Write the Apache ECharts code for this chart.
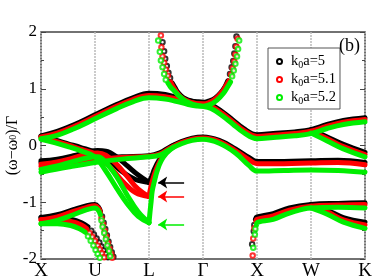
<!DOCTYPE html>
<html><head><meta charset="utf-8">
<script src="https://cdn.jsdelivr.net/npm/echarts@6/dist/echarts.min.js"></script>
<style>html,body{margin:0;padding:0;background:#fff}#c{width:374px;height:279px}</style>
</head><body><div id="c"></div>
<script>
const xLabels = ['X','U','L','Γ','X','W','K'];
const seriesNames = ['k0a=5','k0a=5.1','k0a=5.2'];
const seriesColors = ['#000000','#ff0000','#00ee00'];

// Upper band X-U-L-Γ-X-W-K
const upper5  = [[0,0.17],[0.3,0.25],[0.6,0.36],[1,0.54],[1.4,0.72],[1.7,0.84],[2,0.92],[2.3,0.9],[2.5,0.85],[2.7,0.8],[2.85,0.77],[3,0.76],[3.15,0.72],[3.35,0.6],[3.55,0.45],[3.75,0.3],[4,0.19],[4.3,0.21],[4.7,0.24],[5,0.28],[5.3,0.37],[5.6,0.44],[6,0.49]];
const upper51 = [[0,0.15],[0.3,0.22],[0.6,0.33],[1,0.51],[1.4,0.69],[1.7,0.81],[2,0.88],[2.3,0.86],[2.5,0.82],[2.7,0.77],[2.85,0.74],[3,0.73],[3.15,0.69],[3.35,0.57],[3.55,0.42],[3.75,0.27],[4,0.16],[4.3,0.18],[4.7,0.21],[5,0.25],[5.3,0.34],[5.6,0.41],[6,0.46]];
const upper52 = [[0,0.12],[0.3,0.18],[0.6,0.29],[1,0.47],[1.4,0.65],[1.7,0.77],[2,0.84],[2.3,0.82],[2.5,0.78],[2.7,0.73],[2.85,0.7],[3,0.69],[3.15,0.65],[3.35,0.53],[3.55,0.38],[3.75,0.23],[4,0.12],[4.3,0.14],[4.7,0.17],[5,0.21],[5.3,0.3],[5.6,0.37],[6,0.42]];

// Parabola around Γ (dense part)
const para5  = [[2.43,1.1],[2.48,1.02],[2.54,0.93],[2.64,0.84],[2.79,0.78],[3,0.76],[3.1,0.78],[3.22,0.83],[3.33,0.93],[3.41,1.04],[3.46,1.14]];
const para51 = [[2.4,1.12],[2.45,1.03],[2.52,0.93],[2.62,0.83],[2.78,0.76],[3,0.73],[3.12,0.76],[3.24,0.83],[3.35,0.94],[3.43,1.06],[3.48,1.14]];
const para52 = [[2.35,1.1],[2.4,1.03],[2.47,0.96],[2.55,0.88],[2.65,0.8],[2.8,0.73],[3,0.69],[3.13,0.72],[3.26,0.8],[3.38,0.92],[3.46,1.04],[3.51,1.12]];
// Parabola sparse points
const paraPts5  = [[2.25,1.82],[2.28,1.66],[2.3,1.53],[2.33,1.4],[2.36,1.28],[2.39,1.19],[3.62,1.92],[3.6,1.75],[3.58,1.62],[3.56,1.49],[3.53,1.38],[3.5,1.26]];
const paraPts51 = [[2.22,1.94],[2.23,1.73],[2.25,1.57],[2.28,1.46],[2.31,1.34],[2.35,1.23],[3.64,1.88],[3.62,1.74],[3.6,1.6],[3.58,1.48],[3.55,1.36],[3.52,1.25]];
const paraPts52 = [[2.17,1.85],[2.2,1.65],[2.22,1.5],[2.25,1.38],[2.28,1.26],[2.31,1.16],[3.67,1.85],[3.65,1.7],[3.63,1.57],[3.6,1.44],[3.57,1.32],[3.54,1.22]];

// Band A: from X (top) down through U to L (lower path)
const bandA5  = [[0,0.16],[0.25,0.1],[0.5,0.03],[0.75,-0.04],[1,-0.12],[1.25,-0.25],[1.5,-0.46],[1.75,-0.6],[2,-0.65]];
const bandA51 = [[0,0.14],[0.25,0.08],[0.5,0.01],[0.75,-0.07],[1,-0.15],[1.25,-0.35],[1.5,-0.62],[1.75,-0.83],[2,-0.9]];
const bandA52 = [[0,0.11],[0.25,0.05],[0.5,-0.02],[0.75,-0.1],[1,-0.2],[1.2,-0.45],[1.4,-0.75],[1.6,-1.03],[1.8,-1.25],[2,-1.36]];
// Band H: from X, hump at U, down to L (upper path)
const bandH5  = [[0,-0.27],[0.3,-0.24],[0.6,-0.18],[0.85,-0.12],[1.05,-0.09],[1.2,-0.1],[1.4,-0.2],[1.6,-0.36],[1.8,-0.52],[2,-0.65]];
const bandH51 = [[0,-0.33],[0.3,-0.29],[0.6,-0.22],[0.85,-0.15],[1.05,-0.13],[1.2,-0.17],[1.4,-0.33],[1.6,-0.55],[1.8,-0.77],[2,-0.9]];
const bandH52 = [[0,-0.42],[0.3,-0.36],[0.6,-0.28],[0.85,-0.22],[1.05,-0.2],[1.2,-0.3],[1.4,-0.55],[1.6,-0.88],[1.8,-1.17],[2,-1.36]];
// Band G: X -> L (near -0.2) -> Γ -> X -> W -> K
const bandG5  = [[0,-0.3],[0.5,-0.26],[1,-0.23],[1.5,-0.2],[2,-0.18],[2.2,-0.13],[2.4,-0.02],[2.6,0.07],[2.8,0.13],[3,0.15],[3.3,0.09],[3.6,-0.06],[3.85,-0.21],[4,-0.28],[4.5,-0.28],[5,-0.27],[5.5,-0.26],[6,-0.3]];
const bandG51 = [[0,-0.37],[0.5,-0.3],[1,-0.25],[1.5,-0.21],[2,-0.19],[2.2,-0.15],[2.4,-0.04],[2.6,0.05],[2.8,0.11],[3,0.13],[3.3,0.07],[3.6,-0.09],[3.85,-0.25],[4,-0.32],[4.5,-0.32],[5,-0.31],[5.5,-0.3],[6,-0.34]];
const bandG52 = [[0,-0.47],[0.5,-0.38],[1,-0.3],[1.5,-0.24],[2,-0.2],[2.2,-0.17],[2.4,-0.06],[2.6,0.03],[2.8,0.09],[3,0.11],[3.3,0.04],[3.6,-0.13],[3.85,-0.35],[4,-0.45],[4.5,-0.44],[5,-0.43],[5.5,-0.44],[6,-0.47]];
// Band S: steep rise out of L
const bandS5  = [[2,-0.65],[2.05,-0.55],[2.1,-0.42],[2.18,-0.27],[2.3,-0.12],[2.45,0.0]];
const bandS51 = [[2,-0.9],[2.03,-0.75],[2.07,-0.6],[2.12,-0.45],[2.2,-0.28],[2.3,-0.14],[2.45,-0.02]];
const bandS52 = [[2,-1.36],[2.02,-1.16],[2.04,-0.98],[2.06,-0.8],[2.1,-0.63],[2.15,-0.45],[2.22,-0.28],[2.32,-0.14],[2.45,-0.03]];
// Descending branch W -> K (upper)
const wk5  = [[5,0.28],[5.3,0.15],[5.6,0.02],[6,-0.12]];
const wk51 = [[5,0.25],[5.3,0.12],[5.6,-0.02],[6,-0.16]];
const wk52 = [[5,0.22],[5.3,0.08],[5.6,-0.06],[6,-0.2]];

// Lower bands X -> U (dense part)
const lowA5  = [[0,-1.27],[0.3,-1.22],[0.6,-1.13],[0.85,-1.06],[1,-1.04],[1.06,-1.08],[1.1,-1.16]];
const lowA51 = [[0,-1.31],[0.3,-1.26],[0.6,-1.16],[0.85,-1.09],[1,-1.06],[1.06,-1.1],[1.1,-1.18]];
const lowA52 = [[0,-1.38],[0.3,-1.32],[0.6,-1.22],[0.85,-1.13],[1,-1.1],[1.06,-1.14],[1.1,-1.22]];
const lowB5  = [[0,-1.27],[0.3,-1.27],[0.55,-1.3],[0.75,-1.36],[0.87,-1.43]];
const lowB51 = [[0,-1.31],[0.3,-1.31],[0.55,-1.34],[0.75,-1.4],[0.85,-1.47]];
const lowB52 = [[0,-1.38],[0.3,-1.38],[0.55,-1.41],[0.72,-1.47],[0.82,-1.53]];
// Lower bands X -> U (plunging, sparse circles)
const plunge5  = [[1.13,-1.25],[1.16,-1.36],[1.19,-1.47],[1.22,-1.58],[1.25,-1.69],[1.28,-1.79],[1.31,-1.88],[1.34,-1.96],
                  [0.93,-1.5],[0.98,-1.57],[1.03,-1.64],[1.08,-1.71],[1.12,-1.78],[1.16,-1.85],[1.2,-1.91],[1.24,-1.97]];
const plunge51 = [[1.12,-1.28],[1.15,-1.39],[1.18,-1.5],[1.21,-1.61],[1.24,-1.72],[1.27,-1.82],[1.3,-1.91],[1.32,-1.98],
                  [0.9,-1.54],[0.95,-1.61],[1.0,-1.68],[1.05,-1.76],[1.09,-1.83],[1.13,-1.9],[1.17,-1.97]];
const plunge52 = [[1.12,-1.32],[1.14,-1.43],[1.17,-1.54],[1.2,-1.65],[1.23,-1.76],[1.26,-1.86],[1.28,-1.95],
                  [0.87,-1.6],[0.92,-1.68],[0.97,-1.76],[1.01,-1.84],[1.05,-1.91],[1.09,-1.98]];
// Lower bands X -> W -> K
const lowC5  = [[3.97,-1.3],[4,-1.26],[4.3,-1.2],[4.6,-1.1],[5,-1.04],[5.5,-1.02],[6,-1.01]];
const lowC51 = [[3.98,-1.34],[4,-1.3],[4.3,-1.24],[4.6,-1.14],[5,-1.07],[5.5,-1.05],[6,-1.04]];
const lowC52 = [[3.99,-1.4],[4,-1.36],[4.3,-1.3],[4.6,-1.19],[5,-1.1],[5.5,-1.09],[6,-1.1]];
const lowD5  = [[5,-1.04],[5.3,-1.14],[5.6,-1.27],[6,-1.35]];
const lowD51 = [[5,-1.07],[5.3,-1.17],[5.6,-1.31],[6,-1.4]];
const lowD52 = [[5,-1.1],[5.3,-1.21],[5.6,-1.35],[6,-1.46]];
const tailPts5  = [[3.95,-1.4],[3.94,-1.51],[3.91,-1.74]];
const tailPts51 = [[3.95,-1.46],[3.93,-1.64],[3.92,-1.94]];
const tailPts52 = [[3.97,-1.47],[3.96,-1.57],[3.93,-1.8]];

// Arrows at L
const arrowY = [-0.65, -0.9, -1.39];
const arrowTailX = 2.65;
const arrowHeadX = 2.17;

const serif = "'Liberation Serif','Times New Roman',serif";
const bandSets = [
  [upper5, para5, bandA5, bandH5, bandG5, bandS5, wk5, lowA5, lowB5, lowC5, lowD5],
  [upper51, para51, bandA51, bandH51, bandG51, bandS51, wk51, lowA51, lowB51, lowC51, lowD51],
  [upper52, para52, bandA52, bandH52, bandG52, bandS52, wk52, lowA52, lowB52, lowC52, lowD52]
];
const ptSets = [[paraPts5, tailPts5, plunge5],[paraPts51, tailPts51, plunge51],[paraPts52, tailPts52, plunge52]];

const series = [];
for (let i = 0; i < 3; i++) {
  const c = seriesColors[i];
  bandSets[i].forEach(d => series.push({
    type:'line', name: seriesNames[i], data:d, smooth:0.4, showSymbol:false, symbol:'none',
    lineStyle:{color:c, width:5, cap:'round'}, itemStyle:{color:c}, z:2+i, animation:false, clip:true
  }));
  ptSets[i].forEach(d => series.push({
    type:'scatter', name: seriesNames[i], data:d, symbol:'emptyCircle', symbolSize:4.5,
    itemStyle:{color:c, borderWidth:1}, z:2+i, animation:false
  }));
  series.push({
    type:'line', name: seriesNames[i], data:[], animation:false, z:5,
    markLine:{silent:true, symbol:['none','arrow'], symbolSize:9, label:{show:false},
      lineStyle:{color:c, width:1.5, type:'solid'}, animation:false,
      data:[[{coord:[arrowTailX, arrowY[i]]},{coord:[arrowHeadX, arrowY[i]]}]]}
  });
}

const chart = echarts.init(document.getElementById('c'));
chart.setOption({
  animation:false,
  backgroundColor:'#fff',
  title:{text:'(b)', right:9, top:32, textStyle:{fontFamily:serif, fontSize:18, fontWeight:'normal', color:'#000'}},
  legend:{
    orient:'vertical', left:268, top:48, padding:[5,4,3,8], itemGap:1,
    backgroundColor:'#fff', borderColor:'#555', borderWidth:1,
    itemWidth:5, itemHeight:5,
    data: seriesNames.map((n,i)=>({name:n, icon:'emptyCircle', itemStyle:{color:seriesColors[i], borderWidth:1}})),
    formatter: n => '{p|}' + n.replace('k0a', 'k{s|0}a'),
    textStyle:{fontFamily:serif, fontSize:14.5, lineHeight:16, color:'#000', rich:{p:{width:4}, s:{fontFamily:serif, fontSize:10, lineHeight:16, padding:[7,0,0,0]}}}
  },
  grid:{left:41, right:9, top:32, bottom:20, show:true, borderColor:'#444', borderWidth:1.5, outerBoundsMode:'none', containLabel:false},
  xAxis:{type:'value', min:0, max:6, interval:1,
    axisLine:{show:false}, axisTick:{show:false},
    axisLabel:{showMinLabel:true, showMaxLabel:true, margin:3, fontFamily:serif, fontSize:19, color:'#000', formatter:v=>xLabels[Math.round(v)]},
    splitLine:{show:true, lineStyle:{color:'#bbb', type:[2,1], width:1.5}}},
  yAxis:[{type:'value', min:-2, max:2, interval:1,
    name:'(ω−ω{s|0})/Γ', nameLocation:'middle', nameGap:20, nameRotate:90, nameMoveOverlap:false,
    nameTextStyle:{fontFamily:serif, fontSize:16, color:'#000', rich:{s:{fontFamily:serif, fontSize:10}}},
    axisLine:{show:false}, axisTick:{show:true, inside:true, length:5, lineStyle:{color:'#444'}},
    minorTick:{show:true, splitNumber:2, length:3, lineStyle:{color:'#444'}},
    axisLabel:{margin:4, fontFamily:serif, fontSize:17, color:'#000'},
    splitLine:{show:false}},
   {type:'value', position:'right', min:-2, max:2, interval:1,
    axisLine:{show:false}, axisTick:{show:true, inside:true, length:5, lineStyle:{color:'#444'}},
    minorTick:{show:true, splitNumber:2, length:3, lineStyle:{color:'#444'}},
    axisLabel:{show:false}, splitLine:{show:false}}],
  series
});
</script></body></html>
